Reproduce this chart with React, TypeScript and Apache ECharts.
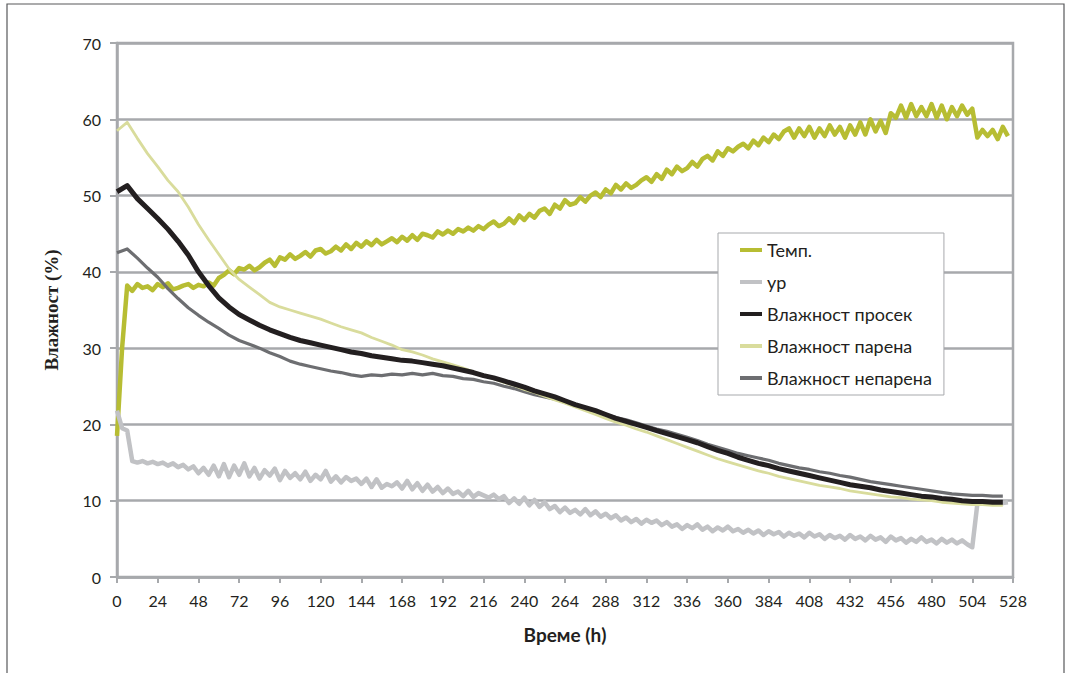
import React, { useEffect, useRef } from "react";
import * as echarts from "echarts";

// Time grids (hours)
const hoursNoisy: number[] = Array.from({ length: 176 }, (_, i) => i * 3);
const hoursSmooth: number[] = Array.from({ length: 88 }, (_, i) => i * 6);

const seriesNames = ["Темп.", "ур", "Влажност просек", "Влажност парена", "Влажност непарена"];

const xTicks = { min: 0, max: 528, interval: 24 };
const yTicks = { min: 0, max: 70, interval: 10 };

// Темп. (3 h step)
const temp: number[] = [
  18.5, 30, 38.2, 37.5, 38.4, 37.9, 38.1, 37.6, 38.4, 38.0, 38.5, 37.7, 37.9, 38.2, 38.4, 37.9,
  38.3, 38.1, 38.6, 38.2, 39.2, 39.6, 40.2, 39.7, 40.5, 40.3, 40.8, 40.2, 40.6, 41.2, 41.6, 40.8,
  41.9, 41.6, 42.3, 41.7, 42.1, 42.6, 42.0, 42.8, 43.0, 42.4, 42.7, 43.3, 42.8, 43.6, 43.0, 43.8,
  43.3, 44.0, 43.5, 44.2, 43.6, 44.0, 44.4, 43.9, 44.6, 44.1, 44.8, 44.2, 45.0, 44.8, 44.5, 45.3,
  44.9, 45.4, 45.0, 45.6, 45.3, 45.8, 45.4, 46.0, 45.6, 46.2, 46.6, 46.0, 46.3, 47.0, 46.4, 47.4,
  46.8, 47.6, 47.1, 48.0, 48.3, 47.6, 48.8, 48.3, 49.4, 48.8, 49.0, 49.8, 49.2, 50.0, 50.4, 49.8,
  50.8, 50.3, 51.4, 50.8, 51.6, 51.0, 51.4, 52.0, 52.4, 51.8, 52.8, 52.2, 53.4, 52.8, 53.8, 53.2,
  53.6, 54.4, 53.8, 54.8, 55.2, 54.6, 55.8, 55.2, 56.2, 55.8, 56.4, 56.8, 56.2, 57.2, 56.6, 57.6,
  57.0, 58.0, 57.4, 58.4, 58.8, 57.6, 58.8, 57.8, 59.0, 57.6, 58.8, 57.8, 59.2, 58.0, 59.0, 57.6,
  59.2, 58.0, 59.6, 58.0, 60.0, 58.4, 59.8, 58.2, 60.8, 60.2, 61.8, 60.2, 62.0, 60.4, 61.6, 60.4,
  62.0, 60.2, 61.8, 60.0, 61.6, 60.4, 61.8, 60.6, 61.4, 57.6, 58.6, 57.8, 58.6, 57.4, 59.0, 57.8,
];

// ур (3 h step)
const ur: number[] = [
  21.8, 19.5, 19.2, 15.2, 15.0, 15.2, 14.9, 15.1, 14.8, 15.0, 14.6, 14.9, 14.4, 14.7, 14.1, 14.5,
  13.6, 14.3, 13.4, 14.6, 13.2, 14.8, 13.1, 14.6, 13.4, 14.9, 13.2, 14.3, 12.9, 14.0, 13.3, 14.2,
  12.7, 13.9, 13.0, 13.6, 12.8, 13.8, 12.6, 13.4, 12.8, 13.9, 12.5, 13.2, 12.4, 13.1, 12.6, 12.9,
  12.2, 12.9, 11.8, 12.8, 11.7, 12.2, 11.9, 12.4, 11.6, 12.6, 11.5, 12.3, 11.3, 12.1, 11.2, 11.8,
  11.0, 11.6, 10.9, 11.2, 10.6, 11.3, 10.5, 11.0, 10.7, 10.4, 10.8, 10.2, 10.6, 9.7, 10.3, 9.6,
  10.4, 9.4, 10.1, 9.2, 9.8, 8.9, 9.3, 8.5, 9.1, 8.4, 8.8, 8.2, 8.9, 8.1, 8.6, 7.9,
  8.3, 7.7, 8.1, 7.4, 7.8, 7.2, 7.6, 7.0, 7.5, 7.1, 7.4, 6.8, 7.2, 6.6, 6.9, 6.3,
  6.8, 6.4, 6.9, 6.2, 6.6, 6.0, 6.5, 6.1, 6.6, 6.0, 6.3, 5.8, 6.2, 5.7, 6.1, 5.5,
  6.0, 5.6, 5.9, 5.3, 5.8, 5.4, 5.7, 5.2, 5.8, 5.3, 5.6, 5.0, 5.5, 5.1, 5.4, 4.9,
  5.5, 5.0, 5.3, 4.8, 5.4, 4.9, 5.2, 4.6, 5.3, 4.8, 5.1, 4.5, 5.0, 4.6, 5.2, 4.6,
  4.9, 4.4, 5.0, 4.5, 4.9, 4.4, 4.8, 4.3, 3.9, 9.6, 9.7, 9.6, 9.7, 9.6, 9.7, 9.8,
];

// Влажност просек (6 h step)
const avgHum: number[] = [
  50.5, 51.3, 49.6, 48.3, 47.0, 45.6, 44.0, 42.2, 40.0, 38.2, 36.6, 35.4, 34.4, 33.7, 33.0, 32.4,
  31.9, 31.4, 31.0, 30.7, 30.4, 30.1, 29.8, 29.5, 29.3, 29.0, 28.8, 28.6, 28.4, 28.3, 28.1, 27.9,
  27.7, 27.4, 27.1, 26.8, 26.4, 26.1, 25.7, 25.3, 24.9, 24.4, 24.0, 23.6, 23.1, 22.6, 22.2, 21.8,
  21.3, 20.8, 20.4, 20.0, 19.6, 19.2, 18.8, 18.4, 18.0, 17.6, 17.1, 16.6, 16.2, 15.7, 15.3, 14.9,
  14.6, 14.2, 13.9, 13.6, 13.3, 13.0, 12.7, 12.4, 12.1, 11.9, 11.7, 11.4, 11.2, 11.0, 10.8, 10.6,
  10.5, 10.3, 10.2, 10.0, 9.9, 9.9, 9.8, 9.8,
];

// Влажност парена (6 h step)
const steamedHum: number[] = [
  58.5, 59.6, 57.5, 55.5, 53.8, 52.0, 50.5, 48.5, 46.2, 44.2, 42.3, 40.4, 39.0, 38.0, 37.0, 36.0,
  35.4, 35.0, 34.6, 34.2, 33.8, 33.3, 32.8, 32.4, 32.0, 31.4, 30.9, 30.4, 29.8, 29.5, 29.1, 28.6,
  28.2, 27.8, 27.4, 26.9, 26.4, 26.0, 25.5, 25.1, 24.6, 24.2, 23.7, 23.2, 22.8, 22.3, 21.8, 21.3,
  20.8, 20.3, 19.9, 19.4, 19.0, 18.5, 18.0, 17.5, 17.0, 16.5, 16.0, 15.5, 15.1, 14.7, 14.3, 13.9,
  13.6, 13.2, 12.9, 12.6, 12.3, 12.0, 11.8, 11.6, 11.3, 11.1, 10.9, 10.7, 10.5, 10.4, 10.2, 10.1,
  10.0, 9.8, 9.7, 9.6, 9.5, 9.5, 9.4, 9.4,
];

// Влажност непарена (6 h step)
const unsteamedHum: number[] = [
  42.5, 43.0, 41.8, 40.5, 39.3, 37.8, 36.5, 35.3, 34.3, 33.4, 32.6, 31.7, 31.0, 30.5, 30.0, 29.4,
  28.9, 28.3, 27.9, 27.6, 27.3, 27.0, 26.8, 26.5, 26.3, 26.5, 26.4, 26.6, 26.5, 26.7, 26.5, 26.7,
  26.4, 26.3, 26.0, 25.9, 25.6, 25.4, 25.0, 24.7, 24.3, 23.9, 23.6, 23.3, 22.9, 22.5, 22.1, 21.7,
  21.3, 20.9, 20.6, 20.2, 19.8, 19.4, 19.1, 18.7, 18.3, 17.9, 17.4, 17.0, 16.6, 16.2, 15.9, 15.6,
  15.3, 14.9, 14.6, 14.3, 14.1, 13.8, 13.6, 13.3, 13.1, 12.8, 12.5, 12.3, 12.1, 11.9, 11.7, 11.5,
  11.3, 11.1, 10.9, 10.8, 10.7, 10.7, 10.6, 10.6,
];

const colors = {
  temp: "#b7bd33",
  ur: "#c1c2c5",
  avg: "#231f20",
  steamed: "#d9dc9c",
  unsteamed: "#6d6e71",
};

const pair = (xs: number[], ys: number[]) => ys.map((v, i) => [xs[i], v]);

export default function App() {
  const ref = useRef<HTMLDivElement>(null);
  useEffect(() => {
    if (!ref.current) return;
    const chart = echarts.init(ref.current, undefined, { renderer: "svg" });
    const gridGray = "#a7a9ac";
    const lineSeries = (name: string, data: number[][], color: string, width: number, z: number) => ({
      name,
      type: "line",
      data,
      showSymbol: false,
      symbol: "none",
      z,
      lineStyle: { color, width, join: "round" },
      itemStyle: { color },
    });
    chart.setOption({
      animation: false,
      backgroundColor: "#ffffff",
      grid: {
        left: 117,
        right: 53,
        top: 43,
        bottom: 96,
        show: true,
        borderColor: gridGray,
        borderWidth: 2.5,
      },
      graphic: [
        {
          type: "rect",
          shape: { x: 7, y: 4, width: 1057, height: 720 },
          style: { fill: "none", stroke: "#58595b", lineWidth: 1.2 },
          silent: true,
        },
      ],
      legend: {
        orient: "vertical",
        left: 718,
        top: 233,
        data: seriesNames,
        backgroundColor: "#ffffff",
        borderColor: gridGray,
        borderWidth: 1,
        padding: [8, 12, 8, 22],
        itemGap: 14,
        itemWidth: 22,
        itemHeight: 4,
        itemTextGap: 20,
        icon: "rect",
        textStyle: { fontFamily: "Lato", fontSize: 18, color: "#231f20" },
      },
      xAxis: {
        type: "value",
        min: xTicks.min,
        max: xTicks.max,
        interval: xTicks.interval,
        name: "Време (h)",
        nameLocation: "middle",
        nameGap: 48,
        nameTextStyle: { fontFamily: "Lato", fontWeight: "bold", fontSize: 19, color: "#231f20" },
        axisLine: { show: true, lineStyle: { color: gridGray, width: 2.5 } },
        axisTick: { show: true, length: 6, lineStyle: { color: gridGray, width: 2 } },
        axisLabel: { fontFamily: "Lato", fontSize: 16, color: "#231f20", margin: 15 },
        splitLine: { show: false },
      },
      yAxis: {
        type: "value",
        min: yTicks.min,
        max: yTicks.max,
        interval: yTicks.interval,
        name: "Влажност (%)",
        nameLocation: "middle",
        nameGap: 56,
        nameRotate: 90,
        nameTextStyle: { fontFamily: "Liberation Serif", fontWeight: "bold", fontSize: 19, color: "#231f20" },
        axisLine: { show: true, lineStyle: { color: gridGray, width: 2.5 } },
        axisTick: { show: true, length: 7, lineStyle: { color: gridGray, width: 2 } },
        axisLabel: { fontFamily: "Lato", fontSize: 16, color: "#231f20", margin: 16 },
        splitLine: { show: true, lineStyle: { color: gridGray, width: 2.5 } },
      },
      series: [
        lineSeries(seriesNames[0], pair(hoursNoisy, temp), colors.temp, 4.5, 2),
        lineSeries(seriesNames[1], pair(hoursNoisy, ur), colors.ur, 4.5, 2),
        lineSeries(seriesNames[4], pair(hoursSmooth, unsteamedHum), colors.unsteamed, 3.2, 3),
        lineSeries(seriesNames[3], pair(hoursSmooth, steamedHum), colors.steamed, 2.8, 3),
        lineSeries(seriesNames[2], pair(hoursSmooth, avgHum), colors.avg, 5, 4),
      ],
    });
    return () => chart.dispose();
  }, []);
  return (
    <div
      ref={ref}
      style={{ position: "absolute", left: 0, top: 0, width: 1066, height: 673, background: "#fff" }}
    />
  );
}
